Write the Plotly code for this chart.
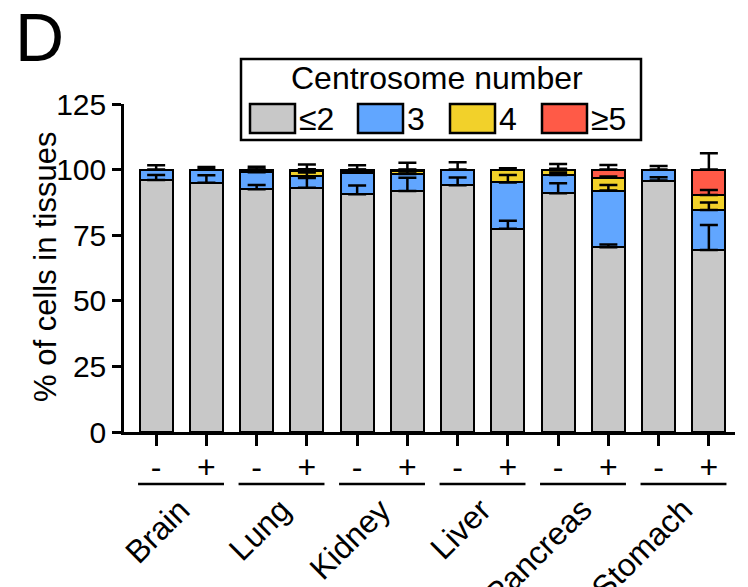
import plotly.graph_objects as go
import numpy as np

# ---------------- data ----------------
tissues = ["Brain", "Lung", "Kidney", "Liver", "Pancreas", "Stomach"]
treatment = ["-", "+"] * 6
series_names = ["≤2", "3", "4", "≥5"]

le2 = [96.0, 95.0, 92.5, 93.1, 90.6, 91.8, 94.0, 77.5, 91.0, 70.4, 95.8, 69.4]
c3 = [4.0, 5.0, 6.5, 4.3, 8.2, 6.5, 6.0, 17.6, 6.9, 21.6, 4.2, 15.2]
c4 = [0.0, 0.0, 0.5, 2.2, 0.6, 1.0, 0.0, 4.9, 1.9, 4.9, 0.0, 5.7]
ge5 = [0.0, 0.0, 0.5, 0.4, 0.6, 0.7, 0.0, 0.0, 0.2, 3.1, 0.0, 9.7]

err_le2 = [1.9, 2.8, 1.6, 3.7, 3.3, 5.1, 3.0, 3.0, 3.8, 1.1, 1.3, 9.5]
err_c3 = [1.7, 1.0, 0.6, 1.5, 0.8, 1.2, 2.8, 2.8, 1.0, 2.1, 1.4, 2.9]
err_c4 = [0.0, 0.0, 0.5, 0.5, 0.5, 0.5, 0.0, 0.5, 0.5, 0.5, 0.0, 1.9]
err_ge5 = [0.0, 0.0, 1.1, 1.9, 1.7, 2.6, 0.0, 0.5, 2.1, 1.8, 0.0, 6.2]

colors = ["#C8C8C8", "#61A6FF", "#F2D12A", "#FF5A47"]

# ---------------- figure ----------------
FONT = "Liberation Sans, Arial, sans-serif"
W, H = 748, 587
L, R, T, B = 124, 13, 104, 155
PW, PH = W - L - R, H - T - B

def px_x(x):
    return (x - L) / PW

def px_y(y):
    return (H - B - y) / PH

xpos = np.arange(len(treatment))
values = [le2, c3, c4, ge5]
errors = [err_le2, err_c3, err_c4, err_ge5]

fig = go.Figure()
for name, vals, col in zip(series_names, values, colors):
    fig.add_trace(go.Bar(
        x=xpos, y=vals, name=name, width=0.66,
        marker=dict(color=col, line=dict(color="black", width=2.5)),
        showlegend=False,
    ))

cum = np.zeros(len(treatment))
for name, vals, errs in zip(series_names, values, errors):
    cum = cum + np.array(vals)
    v = np.array(vals)
    ys = np.where(v > 0, cum, np.nan)
    fig.add_trace(go.Scatter(
        x=xpos, y=ys, mode="markers",
        marker=dict(size=1, color="rgba(0,0,0,0)"),
        error_y=dict(type="data", symmetric=False, array=errs,
                     arrayminus=[0] * len(errs), color="black",
                     thickness=2.5, width=9),
        showlegend=False, hoverinfo="skip",
    ))

fig.update_layout(
    width=W, height=H,
    margin=dict(l=L, r=R, t=T, b=B, pad=0),
    plot_bgcolor="white", paper_bgcolor="white",
    barmode="stack", bargap=0,
    font=dict(family=FONT, size=30, color="black"),
)
fig.update_xaxes(
    range=[-0.64, 11.52], tickmode="array", tickvals=xpos, ticktext=treatment,
    showline=True, linecolor="black", linewidth=2.5,
    ticks="outside", ticklen=11, tickwidth=2.5, tickcolor="black",
    showgrid=False, zeroline=False, tickfont=dict(size=32),
    ticklabelstandoff=-6,
)
fig.update_yaxes(
    range=[0, 125], tickmode="array", tickvals=[0, 25, 50, 75, 100, 125],
    showline=True, linecolor="black", linewidth=2.5,
    ticks="outside", ticklen=9, tickwidth=2.5, tickcolor="black",
    showgrid=False, zeroline=False, tickfont=dict(size=30),
)

shapes = []
annotations = []

# y-axis title
annotations.append(dict(xref="paper", yref="paper", x=px_x(45), y=px_y(266),
                        text="% of cells in tissues", showarrow=False,
                        textangle=-90, xanchor="center", yanchor="middle",
                        font=dict(size=31)))

# group underlines and labels
for g, name in enumerate(tissues):
    shapes.append(dict(type="line", xref="x", yref="paper",
                       x0=2 * g - 0.36, x1=2 * g + 1.35,
                       y0=px_y(484), y1=px_y(484),
                       line=dict(color="black", width=2.5)))
    annotations.append(dict(xref="x", yref="paper", x=2 * g + 0.86, y=px_y(489),
                            text=name, showarrow=False, textangle=-45,
                            xanchor="right", yanchor="top",
                            font=dict(size=32)))

# panel letter
annotations.append(dict(xref="paper", yref="paper", x=px_x(13), y=px_y(-3),
                        text="D", showarrow=False, xanchor="left", yanchor="top",
                        font=dict(size=68)))

# legend (drawn manually)
shapes.append(dict(type="rect", xref="paper", yref="paper",
                   x0=px_x(241), x1=px_x(641), y0=px_y(59), y1=px_y(140),
                   line=dict(color="black", width=2.5), fillcolor="white"))
annotations.append(dict(xref="paper", yref="paper", x=px_x(437), y=px_y(78),
                        text="Centrosome number", showarrow=False,
                        xanchor="center", yanchor="middle", font=dict(size=32)))
sw_x = [250, 358, 450, 542]
for sx, name, col in zip(sw_x, series_names, colors):
    shapes.append(dict(type="rect", xref="paper", yref="paper",
                       x0=px_x(sx), x1=px_x(sx + 45), y0=px_y(104), y1=px_y(133),
                       line=dict(color="black", width=2.5), fillcolor=col))
    annotations.append(dict(xref="paper", yref="paper", x=px_x(sx + 47), y=px_y(119),
                            text=name, showarrow=False, xanchor="left",
                            yanchor="middle", font=dict(size=32)))

fig.update_layout(shapes=shapes, annotations=annotations)
fig.write_html("out.html", config={"displayModeBar": False},
               post_script="document.body.style.margin='0';document.body.style.overflow='hidden';")
